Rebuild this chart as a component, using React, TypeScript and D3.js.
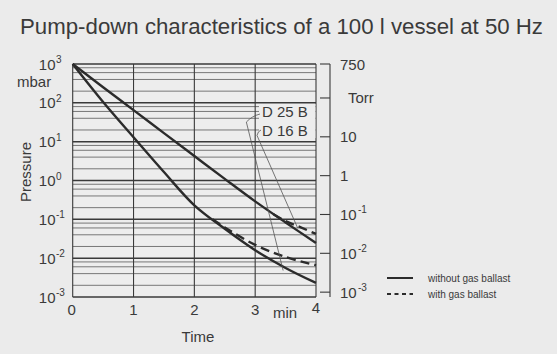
import React from "react";
import * as d3 from "d3";

// pump-down curves, pressure in mbar over time in min
const times = [0, 0.5, 1, 1.5, 2, 2.5, 3, 3.5, 4];
const d25bDry = [1000, 105, 13, 1.65, 0.23, 0.057, 0.016, 0.0056, 0.0023];
const d16bDry = [1000, 251, 65, 16.6, 4.27, 1.1, 0.29, 0.083, 0.0245];

const d25bGasTimes = [2.3, 2.5, 3, 3.5, 4];
const d25bGas = [0.1, 0.062, 0.022, 0.0107, 0.0066];
const d16bGasTimes = [3.3, 3.5, 3.75, 4];
const d16bGas = [0.135, 0.09, 0.062, 0.042];

const timeTicks = [0, 1, 2, 3, 4];
const mbarExponents = [3, 2, 1, 0, -1, -2, -3];
const minorSteps = [2, 4, 6, 8];
const torrTicks = [750, 100, 10, 1, 0.1, 0.01, 0.001];
const torrLabels = ["750", "Torr", "10", "1", "10|-1", "10|-2", "10|-3"];

const FONT = "'Liberation Sans', Arial, Helvetica, sans-serif";
const INK = "#3a3a3a";

export default function App() {
  const x = d3.scaleLinear().domain([0, 4]).range([72.7, 316]);
  const y = d3.scaleLog().domain([1e-3, 1e3]).range([297, 64]);
  // 1 mbar = 0.75 Torr
  const yT = d3.scaleLog().domain([0.75e-3, 750]).range([297, 64]);

  const line = d3
    .line<[number, number]>()
    .x((d) => x(d[0]))
    .y((d) => y(d[1]))
    .curve(d3.curveCatmullRom.alpha(0.5));

  const zip = (t: number[], v: number[]) => t.map((tt, i) => [tt, v[i]] as [number, number]);

  const minor: number[] = [];
  mbarExponents.slice(0, -1).forEach((e) => {
    minorSteps.forEach((m) => minor.push(m * Math.pow(10, e - 1)));
  });

  const axisX = 330;

  // leader lines, in data coords
  const lead25: [number, number][] = [[2.855, 32], [3.46, 0.0048]];
  const lead16: [number, number][] = [[3.03, 14.5], [3.7, 0.059]];

  return (
    <svg
      width={557}
      height={354}
      style={{ position: "absolute", left: 0, top: 0, background: "#ebebeb" }}
      fontFamily={FONT}
    >
      <rect width={557} height={354} fill="#ebebeb" />
      <text x={20} y={34} fontSize={22} fill={INK} textLength={523} lengthAdjust="spacingAndGlyphs">
        Pump-down characteristics of a 100 l vessel at 50 Hz
      </text>

      <rect x={x(0)} y={y(1e3)} width={x(4) - x(0)} height={y(1e-3) - y(1e3)} fill="#ededed" />

      {minor.map((v, i) => (
        <line key={"m" + i} x1={x(0)} x2={x(4)} y1={y(v)} y2={y(v)} stroke="#6a6a6a" strokeWidth={0.9} />
      ))}
      {mbarExponents.map((e) => (
        <line key={"d" + e} x1={x(0)} x2={x(4)} y1={y(Math.pow(10, e))} y2={y(Math.pow(10, e))} stroke="#3a3a3a" strokeWidth={1.5} />
      ))}
      {timeTicks.map((t) => (
        <line key={"v" + t} x1={x(t)} x2={x(t)} y1={y(1e3)} y2={y(1e-3)} stroke="#3a3a3a" strokeWidth={1.1} />
      ))}

      {/* curves */}
      <path d={line(zip(times, d16bDry)) || ""} fill="none" stroke="#2b2b2b" strokeWidth={2.4} />
      <path d={line(zip(times, d25bDry)) || ""} fill="none" stroke="#2b2b2b" strokeWidth={2.4} />
      <path d={line(zip(d25bGasTimes, d25bGas)) || ""} fill="none" stroke="#2b2b2b" strokeWidth={2.4} strokeDasharray="9 5" />
      <path d={line(zip(d16bGasTimes, d16bGas)) || ""} fill="none" stroke="#2b2b2b" strokeWidth={2.4} strokeDasharray="9 5" />

      {/* pump labels with leader lines */}
      <rect x={259} y={104} width={x(4) - 259.6} height={34} fill="#ededed" />
      <text x={262} y={117} fontSize={15} fill={INK}>D 25 B</text>
      <text x={262} y={136} fontSize={15} fill={INK}>D 16 B</text>
      <path
        d={`M260,114 Q252,116 ${x(lead25[0][0])},${y(lead25[0][1])} L${x(lead25[1][0])},${y(lead25[1][1])}`}
        fill="none"
        stroke="#555"
        strokeWidth={0.8}
      />
      <path
        d={`M261,130 Q258,131 ${x(lead16[0][0])},${y(lead16[0][1])} L${x(lead16[1][0])},${y(lead16[1][1])}`}
        fill="none"
        stroke="#555"
        strokeWidth={0.8}
      />

      {/* left axis labels */}
      {mbarExponents.map((e) => (
        <g key={"l" + e} fill={INK}>
          <text x={55.5} y={y(Math.pow(10, e)) + 5.5} fontSize={15} textAnchor="end">10</text>
          <text x={56} y={y(Math.pow(10, e)) - 1} fontSize={10}>{e < 0 ? "-" + -e : String(e)}</text>
        </g>
      ))}
      <text x={17} y={87} fontSize={15} fill={INK}>mbar</text>
      <text transform="translate(31,172) rotate(-90)" fontSize={15} fill={INK} textAnchor="middle">Pressure</text>

      {/* x axis labels */}
      {timeTicks.map((t) => (
        <text key={"t" + t} x={x(t) + (t === 0 ? -1 : 0)} y={t === 4 ? 313 : 315} fontSize={15} fill={INK} textAnchor="middle">
          {t}
        </text>
      ))}
      <text x={273} y={318} fontSize={15} fill={INK}>min</text>
      <text x={198} y={342} fontSize={15} fill={INK} textAnchor="middle">Time</text>

      {/* Torr axis */}
      <line x1={axisX} x2={axisX} y1={yT(750)} y2={y(1e-3)} stroke="#3a3a3a" strokeWidth={1.1} />
      {torrTicks.map((v, i) => {
        const yy = yT(v);
        const lab = torrLabels[i];
        const parts = lab.split("|");
        return (
          <g key={"r" + i} fill={INK}>
            <line x1={axisX - 10} x2={axisX} y1={yy} y2={yy} stroke="#3a3a3a" strokeWidth={1.1} />
            {lab === "Torr" ? (
              <text x={348} y={yy + 5} fontSize={15}>Torr</text>
            ) : (
              <>
                <text x={340} y={yy + 5.5} fontSize={15}>{parts[0]}</text>
                {parts[1] && (
                  <text x={358} y={yy - 1} fontSize={10}>{parts[1]}</text>
                )}
              </>
            )}
          </g>
        );
      })}

      {/* legend */}
      <line x1={387} x2={413} y1={278} y2={278} stroke="#2b2b2b" strokeWidth={2} />
      <text x={428} y={281.5} fontSize={10} fill={INK}>without gas ballast</text>
      <line x1={387} x2={413} y1={294} y2={294} stroke="#2b2b2b" strokeWidth={2} strokeDasharray="4 3.5" />
      <text x={428} y={297.5} fontSize={10} fill={INK}>with gas ballast</text>
    </svg>
  );
}
